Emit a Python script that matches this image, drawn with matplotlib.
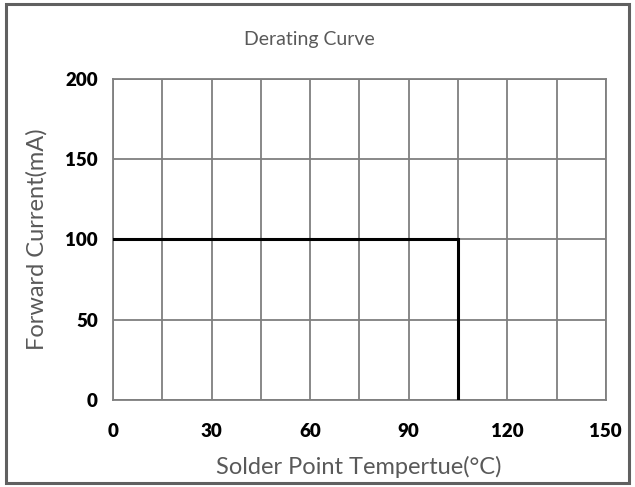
import matplotlib
matplotlib.use('Agg')
import matplotlib.pyplot as plt
from matplotlib.patches import Rectangle

# derating curve: flat current up to the knee temperature, then drops to zero
temp = [0, 105, 105]
current = [100, 100, 0]

x_ticks = [0, 30, 60, 90, 120, 150]
y_ticks = [0, 50, 100, 150, 200]
x_grid = list(range(0, 151, 15))

plt.rcParams['font.family'] = ['Lato', 'DejaVu Sans']

fig = plt.figure(figsize=(6.35, 4.87), dpi=100)
ax = fig.add_axes([0.178, 0.179, 0.776, 0.659])

grid_col = '#7f7f7f'
for xv in x_grid:
    ax.axvline(xv, color=grid_col, lw=1.3, zorder=1)
for yv in y_ticks:
    ax.axhline(yv, color=grid_col, lw=1.3, zorder=1)

ax.plot(temp, current, color='black', lw=2.2, zorder=3, solid_joinstyle='miter')

ax.set_xlim(0, 150)
ax.set_ylim(0, 200)
ax.set_xticks(x_ticks)
ax.set_yticks(y_ticks)
for s in ax.spines.values():
    s.set_color(grid_col)
    s.set_linewidth(1.3)
ax.tick_params(length=0, labelsize=13.5)
ax.tick_params(axis='x', pad=17)
ax.tick_params(axis='y', pad=11)
for lab in ax.get_xticklabels() + ax.get_yticklabels():
    lab.set_fontweight('heavy')

ax.set_xlabel('Solder Point Tempertue(°C)', color='#595959', fontsize=17, va='center')
ax.xaxis.set_label_coords(0.499, -0.208)
ax.set_ylabel('Forward Current(mA)', color='#595959', fontsize=17, va='center')
ax.yaxis.set_label_coords(-0.154, 0.50)
fig.text(0.487, 0.918, 'Derating Curve', ha='center', va='center',
         color='#595959', fontsize=14)

# outer frame around the chart
fig.patches.append(Rectangle((0.009, 0.009), 0.982, 0.982, transform=fig.transFigure,
                             fill=False, edgecolor='#606060', lw=2.2))

fig.savefig('out.png', dpi=100)
